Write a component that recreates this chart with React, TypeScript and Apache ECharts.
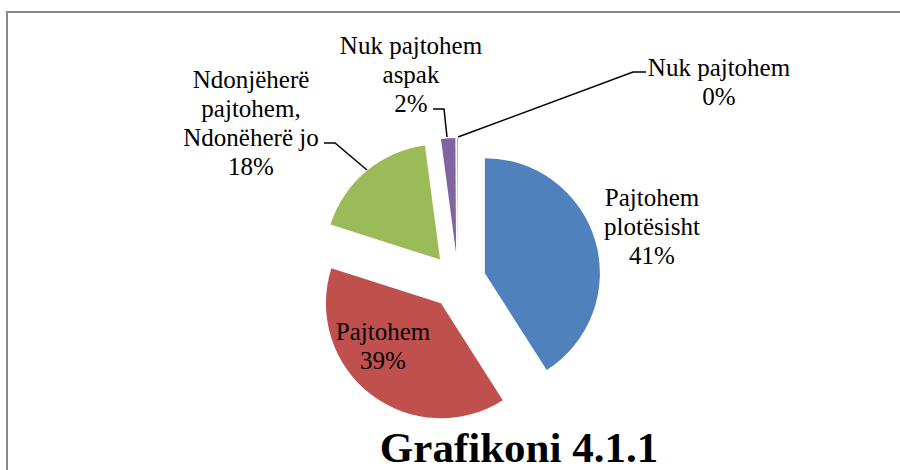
import React, { useEffect, useRef } from "react";
import * as echarts from "echarts";

const categories = [
  "Pajtohem plotësisht",
  "Pajtohem",
  "Ndonjëherë pajtohem, Ndonëherë jo",
  "Nuk pajtohem aspak",
  "Nuk pajtohem",
];
// how each category label is wrapped in the chart
const labelLines = [
  ["Pajtohem", "plotësisht"],
  ["Pajtohem"],
  ["Ndonjëherë", "pajtohem,", "Ndonëherë jo"],
  ["Nuk pajtohem", "aspak"],
  ["Nuk pajtohem"],
];
const values = [41, 39, 18, 2, 0.1];
const colors = ["#4F81BD", "#C0504D", "#9BBB59", "#8064A2", "#4BACC6"];
const titleText = "Grafikoni 4.1.1";

// label placements (layout only)
const labelPos: { x: number; y: number; line?: number[][] }[] = [
  { x: 652, y: 226 },
  { x: 383, y: 346 },
  { x: 251, y: 123, line: [[367, 170], [335, 143], [324, 143]] },
  { x: 411, y: 74, line: [[447, 137], [444, 109], [433, 109]] },
  { x: 719, y: 82, line: [[458, 137], [633, 72], [646, 72]] },
];

export default function App() {
  const ref = useRef<HTMLDivElement>(null);
  useEffect(() => {
    if (!ref.current) return;
    const chart = echarts.init(ref.current, null, { renderer: "svg" });
    const fam = "Liberation Serif";
    const total = values.reduce((a, b) => a + b, 0);
    const graphics: any[] = [
      {
        type: "rect",
        shape: { x: 7, y: 12, width: 1000, height: 1000 },
        style: { fill: "none", stroke: "#888888", lineWidth: 2 },
        silent: true,
      },
      {
        type: "text",
        x: 519,
        y: 447,
        style: {
          text: titleText,
          fontFamily: fam,
          fontSize: 43,
          fontWeight: "bold",
          fill: "#000",
          textAlign: "center",
          textVerticalAlign: "middle",
        },
      },
    ];
    categories.forEach((_, i) => {
      const pct = Math.round((values[i] / total) * 100);
      const p = labelPos[i];
      graphics.push({
        type: "text",
        x: p.x,
        y: p.y,
        z: 10,
        style: {
          text: [...labelLines[i], `${pct}%`].join("\n"),
          fontFamily: fam,
          fontSize: 25,
          lineHeight: 29,
          fill: "#000",
          textAlign: "center",
          textVerticalAlign: "middle",
        },
      });
      if (p.line) {
        graphics.push({
          type: "polyline",
          z: 10,
          shape: { points: p.line },
          style: { fill: "none", stroke: "#000", lineWidth: 1.5 },
        });
      }
    });
    chart.setOption({
      animation: false,
      backgroundColor: "#ffffff",
      graphic: graphics,
      series: [
        {
          type: "pie",
          center: [458, 281],
          radius: [0, 115],
          startAngle: 90,
          clockwise: true,
          selectedMode: "multiple",
          selectedOffset: 28,
          emphasis: { disabled: true },
          label: { show: false },
          labelLine: { show: false },
          data: categories.map((name, i) => ({
            name,
            value: values[i],
            selected: true,
            itemStyle: { color: colors[i] },
          })),
        },
      ],
    });
    return () => chart.dispose();
  }, []);
  return (
    <div
      ref={ref}
      style={{ position: "fixed", left: 0, top: 0, width: 900, height: 470 }}
    />
  );
}
